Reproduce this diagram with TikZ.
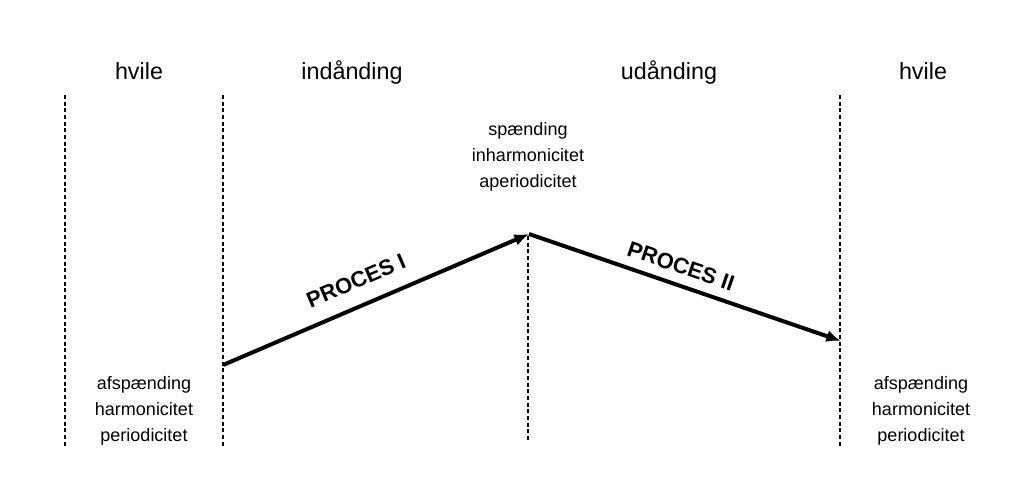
\documentclass[tikz,border=0pt]{standalone}
\usepackage{fontspec}
\setmainfont{Liberation Sans}
\usetikzlibrary{arrows.meta}
\begin{document}
\begin{tikzpicture}[x=0.75pt,y=-0.75pt,
  divider/.style={line width=1.1pt,dash pattern=on 3pt off 2pt},
  head/.style={font=\fontsize{17.5}{20}\selectfont,inner sep=0pt,anchor=base},
  small/.style={font=\fontsize{13.5}{19.5}\selectfont,align=center,inner sep=0pt},
  procarrow/.style={line width=3pt,-{Latex[length=11pt,width=9pt]}},
  proclabel/.style={font=\bfseries\fontsize{16.5}{18}\selectfont,inner sep=0pt}]
\useasboundingbox (0,0) rectangle (1017,496);
% dividers
\coordinate (d1t) at (65,95);  \coordinate (d1b) at (65,448);
\coordinate (d2t) at (223,95); \coordinate (d2b) at (223,448);
\coordinate (d3t) at (528,236); \coordinate (d3b) at (528,440);
\coordinate (d4t) at (840,95); \coordinate (d4b) at (840,448);
\draw[divider] (d1t) -- (d1b);
\draw[divider] (d2t) -- (d2b);
\draw[divider] (d3t) -- (d3b);
\draw[divider] (d4t) -- (d4b);
% headers
\node[head] (h1) at (139,79) {hvile};
\node[head] (h2) at (352,79) {indånding};
\node[head] (h3) at (669,79) {udånding};
\node[head] (h4) at (923,79) {hvile};
% state texts
\node[small] (s1) at (144,411) {afspænding\\harmonicitet\\periodicitet};
\node[small] (s2) at (528,157) {spænding\\inharmonicitet\\aperiodicitet};
\node[small] (s3) at (921,411) {afspænding\\harmonicitet\\periodicitet};
% process arrows
\coordinate (p1) at (223,365);
\coordinate (p2) at (529,234);
\coordinate (p3) at (841,341);
\draw[procarrow] (p1) -- (p2);
\draw[procarrow] (p2) -- (p3);
\node[proclabel,rotate=23.2] (l1) at (356,281) {PROCES I};
\node[proclabel,rotate=-18.9] (l2) at (681,266) {PROCES II};
\end{tikzpicture}
\end{document}
